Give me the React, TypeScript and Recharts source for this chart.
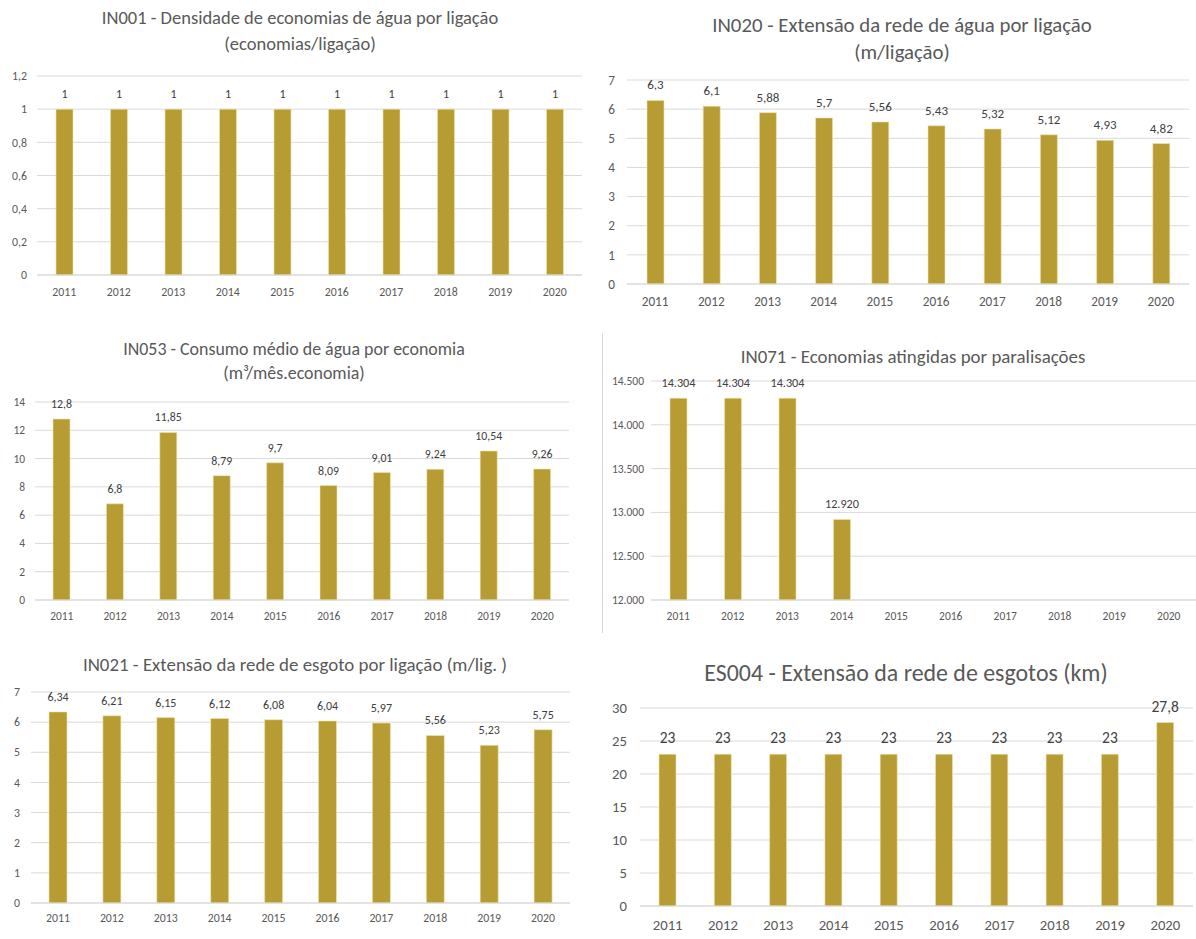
import React from 'react';
import { BarChart, Bar, XAxis, YAxis, CartesianGrid, LabelList } from 'recharts';

const years = ['2011', '2012', '2013', '2014', '2015', '2016', '2017', '2018', '2019', '2020'];

const in001 = [1, 1, 1, 1, 1, 1, 1, 1, 1, 1];
const in020 = [6.3, 6.1, 5.88, 5.7, 5.56, 5.43, 5.32, 5.12, 4.93, 4.82];
const in053 = [12.8, 6.8, 11.85, 8.79, 9.7, 8.09, 9.01, 9.24, 10.54, 9.26];
const in071 = [14304, 14304, 14304, 12920, null, null, null, null, null, null];
const in021 = [6.34, 6.21, 6.15, 6.12, 6.08, 6.04, 5.97, 5.56, 5.23, 5.75];
const es004 = [23, 23, 23, 23, 23, 23, 23, 23, 23, 27.8];

const ticks001 = [0, 0.2, 0.4, 0.6, 0.8, 1, 1.2];
const ticks020 = [0, 1, 2, 3, 4, 5, 6, 7];
const ticks053 = [0, 2, 4, 6, 8, 10, 12, 14];
const ticks071 = [12000, 12500, 13000, 13500, 14000, 14500];
const ticks021 = [0, 1, 2, 3, 4, 5, 6, 7];
const ticks004 = [0, 5, 10, 15, 20, 25, 30];

const BAR = '#B79B33';
const GRID = '#D9D9D9';
const AXIS_TEXT = '#595959';
const LABEL_TEXT = '#404040';
const FONT = 'Carlito, Calibri, Lato, sans-serif';

// pt-BR style numbers: 14.304 / 6,34
const fmt = (v: any) => {
  if (v == null) return '';
  const [i, d] = String(v).split('.');
  const int = i.replace(/\B(?=(\d{3})+(?!\d))/g, '.');
  return d ? int + ',' + d : int;
};

type PanelProps = {
  x: number;
  y: number;
  w: number;
  h: number;
  titles: string[];
  titleYs: number[];
  titleCx: number;
  titleSize: number;
  values: (number | null)[];
  ticks: number[];
  plot: { left: number; right: number; top: number; bottom: number };
  fontSize: number;
  labelSize: number;
  yGap: number;
  xOffset: number;
  barSize: number;
  border?: boolean;
};

function Panel(p: PanelProps) {
  const data = years.map((year, i) => ({ year, value: p.values[i] }));
  const xh = 30;
  const lh = p.titleSize + 6;
  return (
    <div style={{ position: 'absolute', left: p.x, top: p.y, width: p.w, height: p.h }}>
      {p.border && (
        <div
          style={{
            position: 'absolute',
            left: 6,
            top: 13,
            width: 1,
            height: 300,
            background: GRID,
          }}
        />
      )}
      {p.titles.map((t, i) => (
        <div
          key={i}
          style={{
            position: 'absolute',
            left: p.titleCx - 300,
            width: 600,
            top: p.titleYs[i] - lh / 2,
            height: lh,
            lineHeight: lh + 'px',
            textAlign: 'center',
            fontSize: p.titleSize,
            color: AXIS_TEXT,
            whiteSpace: 'nowrap',
          }}
        >
          {t}
        </div>
      ))}
      <div style={{ position: 'absolute', left: 0, top: 0 }}>
        <BarChart
          width={p.w}
          height={p.h}
          data={data}
          margin={{ top: p.plot.top, right: p.w - p.plot.right, left: 0, bottom: p.h - p.plot.bottom - xh }}
          barCategoryGap={0}
        >
          <CartesianGrid vertical={false} stroke={GRID} strokeWidth={1} />
          <XAxis
            dataKey="year"
            height={xh}
            tickLine={false}
            axisLine={{ stroke: GRID }}
            tick={{ fill: AXIS_TEXT, fontSize: p.fontSize }}
            tickMargin={p.xOffset - 6 - p.fontSize * 0.35}
            interval={0}
          />
          <YAxis
            width={p.plot.left}
            domain={[p.ticks[0], p.ticks[p.ticks.length - 1]]}
            ticks={p.ticks}
            tickFormatter={fmt}
            axisLine={false}
            tickLine={false}
            tick={{ fill: AXIS_TEXT, fontSize: p.fontSize }}
            tickMargin={p.yGap - 6}
            interval={0}
          />
          <Bar dataKey="value" fill={BAR} stroke="#F2E6B0" strokeWidth={0.6} barSize={p.barSize} isAnimationActive={false}>
            <LabelList
              dataKey="value"
              position="top"
              offset={11}
              formatter={fmt}
              fill={LABEL_TEXT}
              fontSize={p.labelSize}
            />
          </Bar>
        </BarChart>
      </div>
    </div>
  );
}

export default function App() {
  return (
    <div
      style={{
        position: 'absolute',
        left: 0,
        top: 0,
        width: 1196,
        height: 939,
        background: '#fff',
        fontFamily: FONT,
        overflow: 'hidden',
      }}
    >
      <Panel
        x={0}
        y={0}
        w={600}
        h={310}
        titles={['IN001 - Densidade de economias de água por ligação', '(economias/ligação)']}
        titleYs={[18, 44]}
        titleCx={300}
        titleSize={18.5}
        values={in001}
        ticks={ticks001}
        plot={{ left: 37, right: 582, top: 76, bottom: 275 }}
        fontSize={11.8}
        labelSize={12}
        yGap={10}
        xOffset={17}
        barSize={17}
      />
      <Panel
        x={596}
        y={0}
        w={600}
        h={320}
        titles={['IN020 - Extensão da rede de água por ligação', '(m/ligação)']}
        titleYs={[25, 52]}
        titleCx={306}
        titleSize={20.8}
        values={in020}
        ticks={ticks020}
        plot={{ left: 31, right: 593, top: 80, bottom: 284 }}
        fontSize={13.2}
        labelSize={13}
        yGap={12}
        xOffset={17}
        barSize={17}
      />
      <Panel
        x={0}
        y={320}
        w={600}
        h={310}
        titles={['IN053 - Consumo médio de água por economia', '(m³/mês.economia)']}
        titleYs={[30, 54]}
        titleCx={294}
        titleSize={17.9}
        values={in053}
        ticks={ticks053}
        plot={{ left: 35, right: 569, top: 82, bottom: 280 }}
        fontSize={11.4}
        labelSize={11.8}
        yGap={10}
        xOffset={16}
        barSize={17}
      />
      <Panel
        x={596}
        y={320}
        w={600}
        h={320}
        titles={['IN071 - Economias atingidas por paralisações']}
        titleYs={[37]}
        titleCx={317}
        titleSize={18.9}
        values={in071}
        ticks={ticks071}
        plot={{ left: 55, right: 600, top: 61, bottom: 280 }}
        fontSize={11.5}
        labelSize={12.2}
        yGap={7}
        xOffset={16}
        barSize={17}
        border
      />
      <Panel
        x={0}
        y={640}
        w={600}
        h={299}
        titles={['IN021 - Extensão da rede de esgoto por ligação (m/lig. )']}
        titleYs={[25]}
        titleCx={295}
        titleSize={18.9}
        values={in021}
        ticks={ticks021}
        plot={{ left: 31, right: 570, top: 52, bottom: 263 }}
        fontSize={11.8}
        labelSize={12}
        yGap={11}
        xOffset={15}
        barSize={18}
      />
      <Panel
        x={596}
        y={640}
        w={600}
        h={299}
        titles={['ES004 - Extensão da rede de esgotos (km)']}
        titleYs={[33]}
        titleCx={310}
        titleSize={23.9}
        values={es004}
        ticks={ticks004}
        plot={{ left: 44, right: 597, top: 68, bottom: 266 }}
        fontSize={14.7}
        labelSize={15.5}
        yGap={13}
        xOffset={19}
        barSize={17}
      />
    </div>
  );
}
